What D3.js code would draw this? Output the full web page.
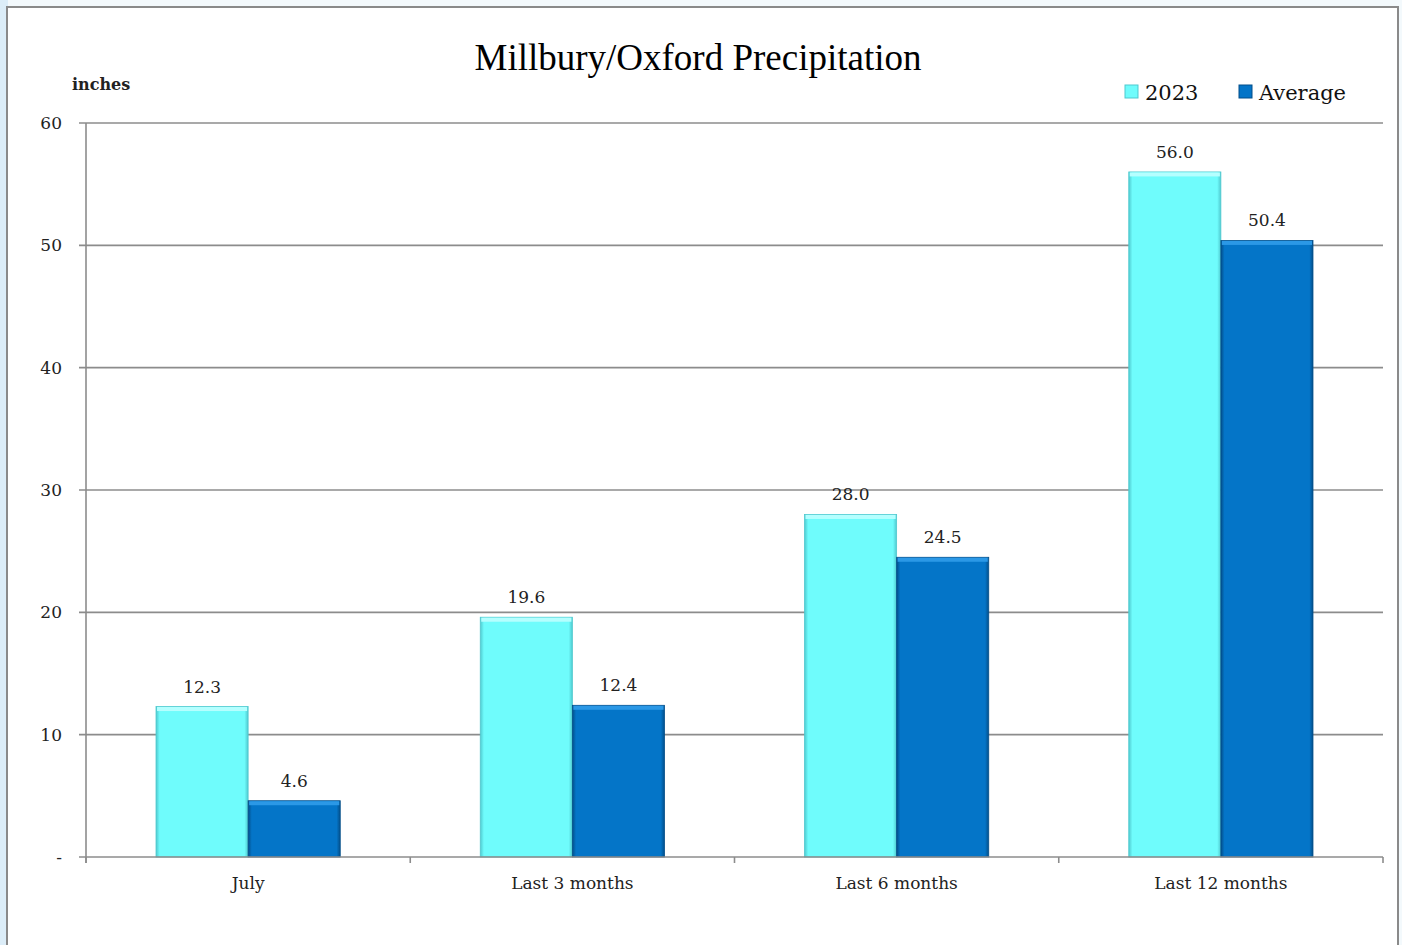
<!DOCTYPE html>
<meta charset="utf-8">
<style>
html, body { margin: 0; padding: 0; background: #f3f9fc; }
svg { display: block; }
text { font-family: "DejaVu Serif", "Liberation Serif", serif; fill: #222; }
</style>
<svg width="1402" height="945"></svg>
<script src="https://d3js.org/d3.v7.min.js"></script>
<script>

var categories = ["July", "Last 3 months", "Last 6 months", "Last 12 months"],
    seriesNames = ["2023", "Average"],
    values2023 = [12.3, 19.6, 28.0, 56.0],
    valuesAvg = [4.6, 12.4, 24.5, 50.4],
    yTicks = [0, 10, 20, 30, 40, 50, 60];

var colors = {"2023": "#6ffcfc", "Average": "#0475c8"},
    edges = {"2023": "#4fc9cf", "Average": "#034f8a"},
    tops = {"2023": "#b5ffff", "Average": "#2b98e6"};

var svg = d3.select("svg");

// page tint + frame
svg.append("rect").attr("x", 0).attr("y", 0).attr("width", 8).attr("height", 945).attr("fill", "#dcedf8");
svg.append("rect").attr("x", 7).attr("y", 7).attr("width", 1391).attr("height", 960)
    .attr("fill", "#fff").attr("stroke", "#8a8a8a").attr("stroke-width", 2);

var margin = {left: 86, right: 1383, top: 123, bottom: 857};

var x = d3.scaleBand().domain(categories).range([margin.left, margin.right]).paddingInner(0).paddingOuter(0);
var xs = d3.scaleBand().domain(seriesNames).range([0, x.bandwidth()]).paddingOuter(0.76).paddingInner(0);
var y = d3.scaleLinear().domain([0, 60]).range([margin.bottom, margin.top]);

// gridlines
svg.append("g").selectAll("line").data(yTicks.filter(function(d) { return d > 0; })).enter().append("line")
    .attr("x1", 79).attr("x2", margin.right)
    .attr("y1", function(d) { return y(d); }).attr("y2", function(d) { return y(d); })
    .attr("stroke", "#8c8c8c").attr("stroke-width", 1.6);

// y labels
svg.append("g").selectAll("text").data(yTicks).enter().append("text")
    .attr("x", 62).attr("y", function(d) { return y(d); }).attr("dy", "0.35em")
    .attr("text-anchor", "end").style("font-size", "17px")
    .text(function(d) { return d === 0 ? "-" : d; });

svg.append("text").attr("x", 72).attr("y", 90).style("font-size", "16px").style("font-weight", "bold")
    .text("inches");

// gradients for bevel look
var defs = svg.append("defs");
seriesNames.forEach(function(s, i) {
  var g = defs.append("linearGradient").attr("id", "grad" + i).attr("x1", 0).attr("x2", 1).attr("y1", 0).attr("y2", 0);
  g.append("stop").attr("offset", "0%").attr("stop-color", edges[s]);
  g.append("stop").attr("offset", "4%").attr("stop-color", colors[s]);
  g.append("stop").attr("offset", "96%").attr("stop-color", colors[s]);
  g.append("stop").attr("offset", "100%").attr("stop-color", edges[s]);
});

var data = [];
categories.forEach(function(c, i) {
  data.push({cat: c, s: "2023", v: values2023[i], k: 0});
  data.push({cat: c, s: "Average", v: valuesAvg[i], k: 1});
});

var bars = svg.append("g").selectAll("g").data(data).enter().append("g")
    .attr("transform", function(d) { return "translate(" + (x(d.cat) + xs(d.s)) + ",0)"; });

bars.append("rect")
    .attr("x", 0).attr("width", xs.bandwidth())
    .attr("y", function(d) { return y(d.v); })
    .attr("height", function(d) { return y(0) - y(d.v); })
    .attr("fill", function(d) { return "url(#grad" + d.k + ")"; })
    .attr("stroke", function(d) { return edges[d.s]; }).attr("stroke-width", 0.8);

bars.append("rect")
    .attr("x", 1).attr("width", xs.bandwidth() - 2)
    .attr("y", function(d) { return y(d.v) + 0.5; })
    .attr("height", 4)
    .attr("fill", function(d) { return tops[d.s]; });

bars.append("text")
    .attr("x", xs.bandwidth() / 2).attr("y", function(d) { return y(d.v) - 14; })
    .attr("text-anchor", "middle").style("font-size", "17px")
    .text(function(d) { return d.v.toFixed(1); });

// axes lines
svg.append("line").attr("x1", margin.left).attr("x2", margin.left).attr("y1", margin.top).attr("y2", 863)
    .attr("stroke", "#8c8c8c").attr("stroke-width", 1.6);
svg.append("line").attr("x1", 79).attr("x2", margin.right).attr("y1", margin.bottom).attr("y2", margin.bottom)
    .attr("stroke", "#8c8c8c").attr("stroke-width", 1.6);
svg.append("g").selectAll("line").data(categories.concat(["end"])).enter().append("line")
    .attr("x1", function(d, i) { return margin.left + i * x.bandwidth(); })
    .attr("x2", function(d, i) { return margin.left + i * x.bandwidth(); })
    .attr("y1", margin.bottom).attr("y2", 863)
    .attr("stroke", "#8c8c8c").attr("stroke-width", 1.6);

svg.append("g").selectAll("text").data(categories).enter().append("text")
    .attr("x", function(d) { return x(d) + x.bandwidth() / 2; })
    .attr("y", 889).attr("text-anchor", "middle").style("font-size", "17px")
    .text(function(d) { return d; });

// title
svg.append("text").attr("x", 698).attr("y", 70).attr("text-anchor", "middle")
    .style("font-family", "'Liberation Serif', serif")
    .style("font-size", "37px").style("fill", "#000").text("Millbury/Oxford Precipitation");

// legend
var legX = [1125, 1239];
var leg = svg.append("g").selectAll("g").data(seriesNames).enter().append("g")
    .attr("transform", function(d, i) { return "translate(" + legX[i] + ",85)"; });
leg.append("rect").attr("width", 13).attr("height", 13)
    .attr("fill", function(d, i) { return "url(#grad" + i + ")"; })
    .attr("stroke", function(d) { return edges[d]; }).attr("stroke-width", 1);
leg.append("text").attr("x", 20).attr("y", 15).style("font-size", "21px").style("fill", "#111")
    .text(function(d) { return d; });

</script>
